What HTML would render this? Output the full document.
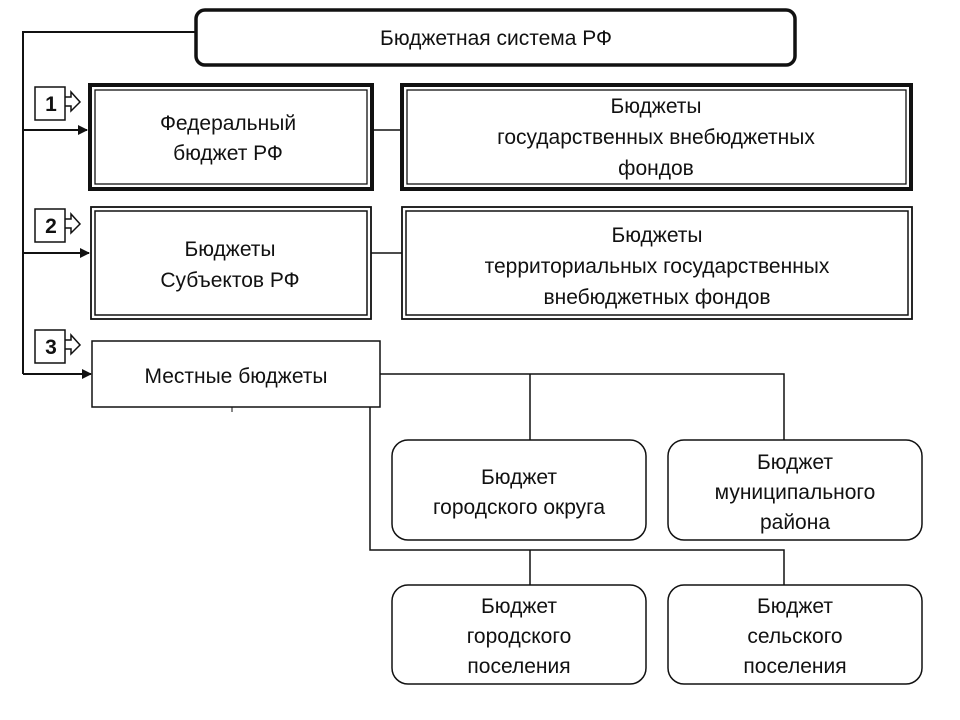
<!DOCTYPE html>
<html><head><meta charset="utf-8"><style>
html,body{margin:0;padding:0;background:#fff;}
svg{display:block;}
text{font-family:"Liberation Sans",sans-serif;fill:#111;text-anchor:middle;font-size:21px;}
</style></head><body>
<svg width="960" height="720" viewBox="0 0 960 720" xmlns="http://www.w3.org/2000/svg">
<defs><marker id="a" markerWidth="10" markerHeight="10" refX="9" refY="5" orient="auto" markerUnits="userSpaceOnUse"><path d="M0,0 L10,5 L0,10 z" fill="#111"/></marker></defs>
<g stroke="#111" fill="none" stroke-width="2">
<!-- top -->
<rect x="196" y="10" width="599" height="55" rx="9" stroke-width="3.5"/>
<path d="M196,32 H23 V374"/>
<path d="M23,130 H87" marker-end="url(#a)"/>
<path d="M23,253 H89" marker-end="url(#a)"/>
<path d="M23,374 H91" marker-end="url(#a)"/>
<!-- row 1 -->
<rect x="90" y="85" width="282" height="104" stroke-width="4"/>
<rect x="95" y="90" width="272" height="94" stroke-width="1.3"/>
<rect x="402" y="85" width="509" height="104" stroke-width="4"/>
<rect x="407" y="90" width="499" height="94" stroke-width="1.3"/>
<path d="M372,130 H402" stroke-width="1.5"/>
<!-- row 2 -->
<rect x="91" y="207" width="280" height="112" stroke-width="1.8"/>
<rect x="95" y="211" width="272" height="104" stroke-width="1.5"/>
<rect x="402" y="207" width="510" height="112" stroke-width="1.8"/>
<rect x="406" y="211" width="502" height="104" stroke-width="1.5"/>
<path d="M371,253 H402" stroke-width="1.5"/>
<!-- row 3 -->
<rect x="92" y="341" width="288" height="66" stroke-width="1.5"/>
<path d="M380,374 H784 V440 M530,374 V440" stroke-width="1.5"/>
<path d="M370,407 V550 H784 V585 M530,550 V585" stroke-width="1.5"/>
<path d="M232,407 V412" stroke-width="1"/>
<rect x="392" y="440" width="254" height="100" rx="16" stroke-width="1.5"/>
<rect x="668" y="440" width="254" height="100" rx="16" stroke-width="1.5"/>
<rect x="392" y="585" width="254" height="99" rx="16" stroke-width="1.5"/>
<rect x="668" y="585" width="254" height="99" rx="16" stroke-width="1.5"/>
<!-- number boxes -->
<g stroke-width="1.5">
<rect x="35" y="87" width="30" height="33"/>
<rect x="35" y="209" width="30" height="33"/>
<rect x="35" y="330" width="30" height="33"/>
<path d="M65,97 H71 V92 L80,102 L71,111 V106 H65"/>
<path d="M65,219 H71 V214 L80,224 L71,233 V228 H65"/>
<path d="M65,340 H71 V335 L80,345 L71,354 V349 H65"/>
</g>
</g>
<g font-weight="bold" style="font-size:20px">
<text x="51" y="111">1</text><text x="51" y="233">2</text><text x="51" y="354">3</text>
</g>
<text x="496" y="45">Бюджетная система РФ</text>
<text x="228" y="130">Федеральный</text><text x="228" y="160">бюджет РФ</text>
<text x="656" y="113">Бюджеты</text><text x="656" y="144">государственных внебюджетных</text><text x="656" y="175">фондов</text>
<text x="230" y="256">Бюджеты</text><text x="230" y="287">Субъектов РФ</text>
<text x="657" y="242">Бюджеты</text><text x="657" y="273">территориальных государственных</text><text x="657" y="304">внебюджетных фондов</text>
<text x="236" y="383">Местные бюджеты</text>
<text x="519" y="484">Бюджет</text><text x="519" y="514">городского округа</text>
<text x="795" y="469">Бюджет</text><text x="795" y="499">муниципального</text><text x="795" y="529">района</text>
<text x="519" y="613">Бюджет</text><text x="519" y="643">городского</text><text x="519" y="673">поселения</text>
<text x="795" y="613">Бюджет</text><text x="795" y="643">сельского</text><text x="795" y="673">поселения</text>
</svg>
</body></html>
